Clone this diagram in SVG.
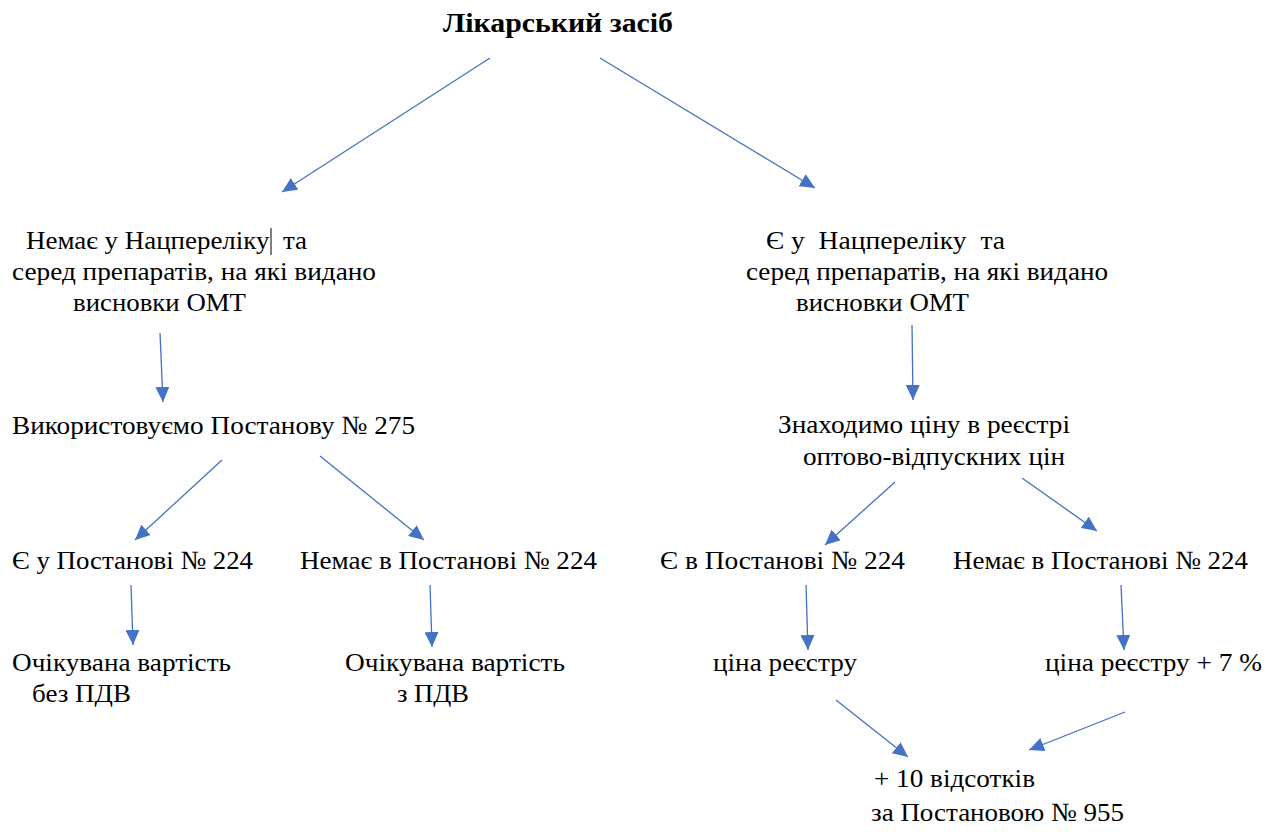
<svg xmlns="http://www.w3.org/2000/svg" width="1270" height="832" viewBox="0 0 1270 832">
<style>
.c line{stroke:#4472C4;stroke-width:1.3;marker-end:url(#ah)}
</style>
<defs>
<marker id="ah" markerUnits="userSpaceOnUse" markerWidth="16" markerHeight="14" refX="15" refY="7" orient="auto">
<path d="M0,0 L15,7 L0,14 z" fill="#4472C4"/>
</marker>
</defs>
<rect width="1270" height="832" fill="#fff"/>
<g class="c" id="connectors">
<line x1="490" y1="58" x2="282" y2="192"/>
<line x1="600" y1="58" x2="815" y2="188"/>
<line x1="160" y1="333" x2="163" y2="402"/>
<line x1="222" y1="460" x2="135" y2="540"/>
<line x1="320" y1="456" x2="424" y2="540"/>
<line x1="131" y1="585" x2="133" y2="645"/>
<line x1="430" y1="585" x2="432" y2="647"/>
<line x1="912" y1="325" x2="913" y2="400"/>
<line x1="895" y1="482" x2="825" y2="545"/>
<line x1="1022" y1="478" x2="1097" y2="531"/>
<line x1="806" y1="585" x2="808" y2="650"/>
<line x1="1121" y1="585" x2="1124" y2="650"/>
<line x1="836" y1="700" x2="908" y2="757"/>
<line x1="1125" y1="712" x2="1029" y2="750"/>
</g>
<g id="n_root"><text font-family="Liberation Serif" font-size="27" font-weight="bold" fill="#000" x="443" y="32" textLength="230" lengthAdjust="spacingAndGlyphs">Лікарський засіб</text></g>
<g id="n_left">
<text font-family="Liberation Serif" font-size="26" fill="#000" x="26" y="249" textLength="281" lengthAdjust="spacingAndGlyphs">Немає у Нацпереліку&#160; та</text>
<line x1="271" y1="228" x2="271" y2="255" stroke="#000" stroke-width="1"/>
<text font-family="Liberation Serif" font-size="26" fill="#000" x="12" y="280" textLength="364" lengthAdjust="spacingAndGlyphs">серед препаратів, на які видано</text>
<text font-family="Liberation Serif" font-size="26" fill="#000" x="73" y="311" textLength="173" lengthAdjust="spacingAndGlyphs">висновки ОМТ</text>
</g>
<g id="n_right">
<text font-family="Liberation Serif" font-size="26" fill="#000" x="766" y="249" textLength="239" lengthAdjust="spacingAndGlyphs">Є у&#160; Нацпереліку&#160; та</text>
<text font-family="Liberation Serif" font-size="26" fill="#000" x="746" y="280" textLength="362" lengthAdjust="spacingAndGlyphs">серед препаратів, на які видано</text>
<text font-family="Liberation Serif" font-size="26" fill="#000" x="796" y="311" textLength="173" lengthAdjust="spacingAndGlyphs">висновки ОМТ</text>
</g>
<g id="n_275"><text font-family="Liberation Serif" font-size="26" fill="#000" x="12" y="434" textLength="403" lengthAdjust="spacingAndGlyphs">Використовуємо Постанову № 275</text></g>
<g id="n_reg">
<text font-family="Liberation Serif" font-size="26" fill="#000" x="778" y="433" textLength="292" lengthAdjust="spacingAndGlyphs">Знаходимо ціну в реєстрі</text>
<text font-family="Liberation Serif" font-size="26" fill="#000" x="803" y="465" textLength="262" lengthAdjust="spacingAndGlyphs">оптово-відпускних цін</text>
</g>
<g id="n_l224y"><text font-family="Liberation Serif" font-size="26" fill="#000" x="12" y="569" textLength="241" lengthAdjust="spacingAndGlyphs">Є у Постанові № 224</text></g>
<g id="n_l224n"><text font-family="Liberation Serif" font-size="26" fill="#000" x="300" y="569" textLength="297" lengthAdjust="spacingAndGlyphs">Немає в Постанові № 224</text></g>
<g id="n_r224y"><text font-family="Liberation Serif" font-size="26" fill="#000" x="660" y="569" textLength="245" lengthAdjust="spacingAndGlyphs">Є в Постанові № 224</text></g>
<g id="n_r224n"><text font-family="Liberation Serif" font-size="26" fill="#000" x="953" y="569" textLength="295" lengthAdjust="spacingAndGlyphs">Немає в Постанові № 224</text></g>
<g id="n_nopdv">
<text font-family="Liberation Serif" font-size="26" fill="#000" x="12" y="671" textLength="219" lengthAdjust="spacingAndGlyphs">Очікувана вартість</text>
<text font-family="Liberation Serif" font-size="26" fill="#000" x="32" y="702" textLength="99" lengthAdjust="spacingAndGlyphs">без ПДВ</text>
</g>
<g id="n_pdv">
<text font-family="Liberation Serif" font-size="26" fill="#000" x="345" y="671" textLength="220" lengthAdjust="spacingAndGlyphs">Очікувана вартість</text>
<text font-family="Liberation Serif" font-size="26" fill="#000" x="397" y="702" textLength="72" lengthAdjust="spacingAndGlyphs">з ПДВ</text>
</g>
<g id="n_price"><text font-family="Liberation Serif" font-size="26" fill="#000" x="713" y="671" textLength="144" lengthAdjust="spacingAndGlyphs">ціна реєстру</text></g>
<g id="n_price7"><text font-family="Liberation Serif" font-size="26" fill="#000" x="1045" y="671" textLength="217" lengthAdjust="spacingAndGlyphs">ціна реєстру + 7 %</text></g>
<g id="n_955">
<text font-family="Liberation Serif" font-size="26" fill="#000" x="874" y="787" textLength="161" lengthAdjust="spacingAndGlyphs">+ 10 відсотків</text>
<text font-family="Liberation Serif" font-size="26" fill="#000" x="871" y="821" textLength="253" lengthAdjust="spacingAndGlyphs">за Постановою № 955</text>
</g>
</svg>
